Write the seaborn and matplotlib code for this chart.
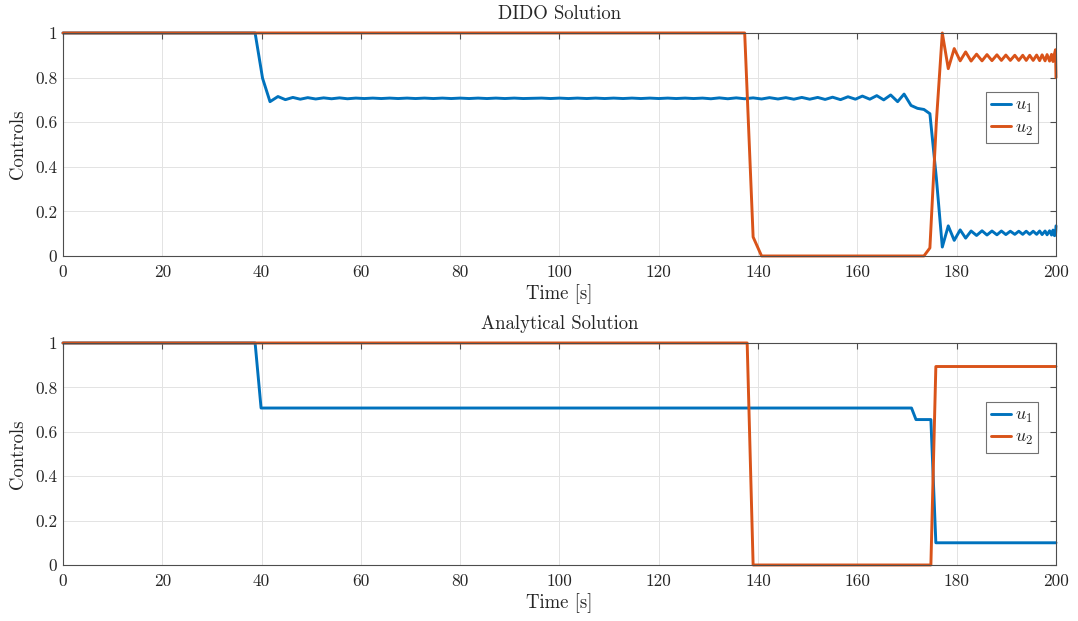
import numpy as np
import pandas as pd
import seaborn as sns
import matplotlib
matplotlib.use("Agg")
import matplotlib.pyplot as plt

# ---------------- data ----------------
dido_t = [
    0.0, 38.7, 40.2, 41.7, 43.3, 44.8, 46.3, 47.8, 49.3, 50.9,
    52.5, 54.1, 55.7, 57.3, 59.0, 60.7, 62.4, 64.1, 65.8, 67.5,
    69.3, 71.0, 72.8, 74.6, 76.4, 78.2, 80.0, 81.8, 83.6, 85.4,
    87.2, 89.0, 90.9, 92.7, 94.5, 96.4, 98.2, 100.0, 101.8, 103.6,
    105.5, 107.3, 109.1, 110.9, 112.8, 114.6, 116.4, 118.2, 120.0, 121.8,
    123.5, 125.3, 127.0, 128.8, 130.5, 132.2, 133.9, 135.6, 137.3, 139.0,
    140.7, 142.3, 144.0, 145.6, 147.2, 148.8, 150.4, 152.0, 153.5, 155.0,
    156.6, 158.1, 159.6, 161.0, 162.5, 163.9, 165.3, 166.7, 168.1, 169.4,
    170.8, 172.1, 173.4, 174.6, 175.9, 177.1, 178.3, 179.5, 180.7, 181.8,
    182.9, 184.0, 185.1, 186.1, 187.1, 188.1, 189.0, 189.9, 190.8, 191.7,
    192.5, 193.3, 194.0, 194.7, 195.4, 196.1, 196.7, 197.2, 197.8, 198.2,
    198.7, 199.1, 199.4, 199.7, 199.9, 200.0,
]
dido_u1 = [
    1.0, 1.0, 0.797, 0.692, 0.715, 0.701, 0.711, 0.703, 0.710, 0.704,
    0.709, 0.705, 0.709, 0.705, 0.708, 0.706, 0.708, 0.706, 0.708, 0.706,
    0.708, 0.706, 0.708, 0.706, 0.708, 0.706, 0.708, 0.706, 0.708, 0.706,
    0.708, 0.706, 0.708, 0.706, 0.707, 0.708, 0.706, 0.708, 0.706, 0.708,
    0.706, 0.708, 0.706, 0.708, 0.706, 0.708, 0.706, 0.708, 0.706, 0.708,
    0.706, 0.708, 0.706, 0.708, 0.705, 0.709, 0.705, 0.709, 0.705, 0.709,
    0.704, 0.710, 0.704, 0.710, 0.703, 0.711, 0.703, 0.711, 0.702, 0.712,
    0.701, 0.714, 0.703, 0.717, 0.703, 0.719, 0.700, 0.722, 0.692, 0.726,
    0.675, 0.662, 0.657, 0.638, 0.350, 0.040, 0.135, 0.070, 0.117, 0.080,
    0.112, 0.092, 0.113, 0.094, 0.112, 0.095, 0.112, 0.096, 0.111, 0.097,
    0.111, 0.097, 0.111, 0.097, 0.111, 0.097, 0.112, 0.096, 0.112, 0.095,
    0.113, 0.094, 0.116, 0.091, 0.095, 0.135,
]
dido_u2 = [
    1.0, 1.0, 1.0, 1.0, 1.0, 1.0, 1.0, 1.0, 1.0, 1.0,
    1.0, 1.0, 1.0, 1.0, 1.0, 1.0, 1.0, 1.0, 1.0, 1.0,
    1.0, 1.0, 1.0, 1.0, 1.0, 1.0, 1.0, 1.0, 1.0, 1.0,
    1.0, 1.0, 1.0, 1.0, 1.0, 1.0, 1.0, 1.0, 1.0, 1.0,
    1.0, 1.0, 1.0, 1.0, 1.0, 1.0, 1.0, 1.0, 1.0, 1.0,
    1.0, 1.0, 1.0, 1.0, 1.0, 1.0, 1.0, 1.0, 1.0, 0.085,
    0.0, 0.0, 0.0, 0.0, 0.0, 0.0, 0.0, 0.0, 0.0, 0.0,
    0.0, 0.0, 0.0, 0.0, 0.0, 0.0, 0.0, 0.0, 0.0, 0.0,
    0.0, 0.0, 0.0, 0.036, 0.600, 1.0, 0.840, 0.930, 0.875, 0.915,
    0.874, 0.905, 0.875, 0.903, 0.876, 0.902, 0.877, 0.901, 0.877, 0.900,
    0.877, 0.900, 0.877, 0.900, 0.877, 0.901, 0.876, 0.902, 0.875, 0.903,
    0.874, 0.904, 0.872, 0.907, 0.925, 0.800,
]

ana_t1 = [0.0, 38.7, 39.9, 170.9, 171.8, 174.8, 175.8, 200.0]
ana_u1 = [1.0, 1.0, 0.707, 0.707, 0.655, 0.655, 0.100, 0.100]
ana_t2 = [0.0, 137.8, 139.0, 174.8, 175.8, 200.0]
ana_u2 = [1.0, 1.0, 0.0, 0.0, 0.894, 0.894]

x_ticks = [0, 20, 40, 60, 80, 100, 120, 140, 160, 180, 200]
y_ticks = [0, 0.2, 0.4, 0.6, 0.8, 1]
y_tick_labels = ["0", "0.2", "0.4", "0.6", "0.8", "1"]
titles = ["DIDO Solution", "Analytical Solution"]
series_labels = [r"$u_1$", r"$u_2$"]

assert len(dido_t) == len(dido_u1) == len(dido_u2)

# ---------------- style ----------------
sns.set_style("white")
plt.rcParams["font.family"] = ["cmr10", "DejaVu Serif"]
plt.rcParams["mathtext.fontset"] = "cm"
plt.rcParams["axes.unicode_minus"] = False
plt.rcParams["axes.formatter.use_mathtext"] = True

c1 = "#0072BD"
c2 = "#D95319"
edge = "#4d4d4d"

fig = plt.figure(figsize=(10.78, 6.21), dpi=100)
ax_top = fig.add_axes([0.0584, 0.5878, 0.9212, 0.3591])
ax_bot = fig.add_axes([0.0584, 0.0902, 0.9212, 0.3575])

datasets = [
    (ax_top, dido_t, dido_u1, dido_t, dido_u2),
    (ax_bot, ana_t1, ana_u1, ana_t2, ana_u2),
]

for (ax, t1, u1, t2, u2), title in zip(datasets, titles):
    sns.lineplot(x=t1, y=u1, ax=ax, color=c1, linewidth=2.1,
                 label=series_labels[0], estimator=None, sort=False)
    sns.lineplot(x=t2, y=u2, ax=ax, color=c2, linewidth=2.1,
                 label=series_labels[1], estimator=None, sort=False)
    for ln in ax.get_lines():
        ln.set_clip_on(False)
        ln.set_solid_joinstyle("round")
    ax.set_xlim(0, 200)
    ax.set_ylim(0, 1)
    ax.set_xticks(x_ticks)
    ax.set_xticklabels([str(v) for v in x_ticks])
    ax.set_yticks(y_ticks)
    ax.set_yticklabels(y_tick_labels)
    ax.grid(True, color="#e3e3e3", linewidth=0.7)
    ax.set_axisbelow(True)
    for sp in ax.spines.values():
        sp.set_visible(True)
        sp.set_color(edge)
        sp.set_linewidth(0.8)
    ax.tick_params(direction="in", top=True, right=True, length=4,
                   width=0.8, color=edge, labelsize=12.5, labelcolor="#262626")
    ax.tick_params(axis="x", pad=6)
    ax.tick_params(axis="y", pad=4)
    ax.set_title(title, fontsize=13.5, color="#262626", pad=10)
    ax.set_xlabel("Time [s]", fontsize=13.5, color="#262626", labelpad=3)
    ax.set_ylabel("Controls", fontsize=13.5, color="#262626", labelpad=6)
    leg = ax.legend(loc="center right", bbox_to_anchor=(0.982, 0.62),
                    fontsize=13, frameon=True, fancybox=False,
                    handlelength=1.1, handletextpad=0.2,
                    borderpad=0.3, labelspacing=0.25, borderaxespad=0.0)
    leg.get_frame().set_edgecolor(edge)
    leg.get_frame().set_linewidth(0.8)

fig.savefig("out.png", dpi=100)
